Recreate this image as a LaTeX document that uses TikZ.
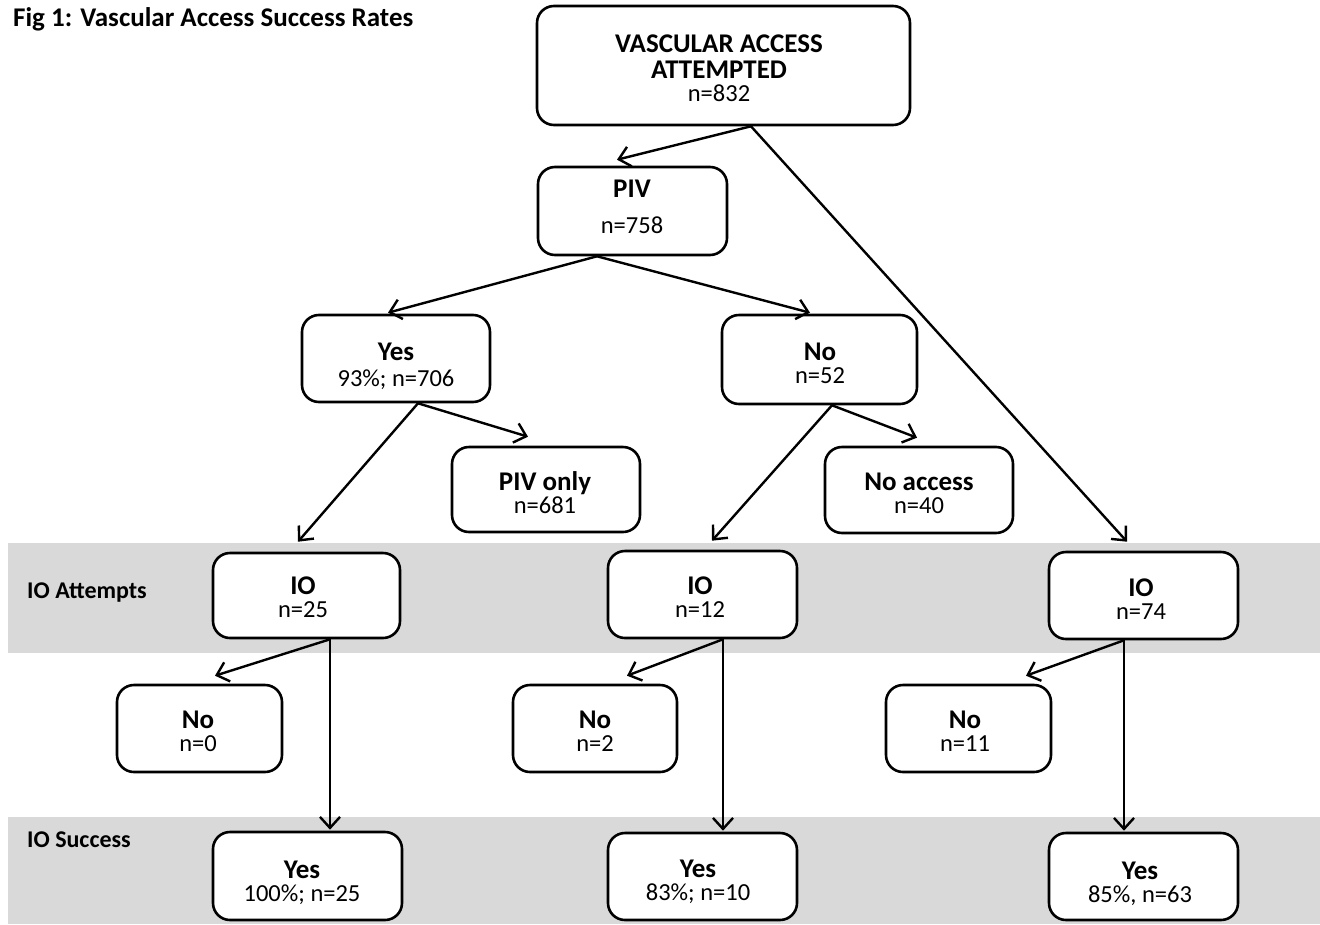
\documentclass[tikz,border=0pt]{standalone}
\usepackage{fontspec}
\setmainfont{Carlito}
\usepackage{tikz}
\usetikzlibrary{arrows.meta}

\definecolor{bandgray}{HTML}{D9D9D9}
\newcommand{\hd}[1]{{\fontsize{27}{30}\selectfont\bfseries #1}}

\begin{document}
\begin{tikzpicture}[x=1pt,y=-1pt,>={Straight Barb[length=11pt,width=20pt]},
  arr/.style={->,line width=2.4pt},
  box node/.style={draw,fill=white,rounded corners=17pt,line width=2.6pt,inner sep=0pt},
  text node/.style={anchor=base,align=center,inner sep=0pt,font=\fontsize{24.5}{23}\selectfont},
  tag node/.style={anchor=base west,inner sep=0pt,font=\fontsize{24}{26}\selectfont\bfseries}]
  \useasboundingbox (0,0) rectangle (1320,924);

  % grey bands
  \fill[bandgray] (8,543) rectangle (1320,653);
  \fill[bandgray] (8,817) rectangle (1320,924);
  \node[tag node] (title) at (13,26) {\fontsize{27}{30}\selectfont Fig 1: Vascular Access Success Rates};
  \node[tag node] (attempts) at (27,598) {IO Attempts};
  \node[tag node] (success) at (27,847) {IO Success};

  % boxes
  \node[box node,minimum width=373pt,minimum height=119pt] (top) at (723.5,65.5) {};
  \node[box node,minimum width=189pt,minimum height=88pt] (piv) at (632.5,211) {};
  \node[box node,minimum width=188pt,minimum height=87pt] (yes) at (396,358.5) {};
  \node[box node,minimum width=195pt,minimum height=89pt] (no) at (819.5,359.5) {};
  \node[box node,minimum width=188pt,minimum height=85pt] (pivonly) at (546,489.5) {};
  \node[box node,minimum width=188pt,minimum height=86pt] (noacc) at (919,490) {};
  \node[box node,minimum width=187pt,minimum height=85pt] (io1) at (306.5,595.5) {};
  \node[box node,minimum width=189pt,minimum height=87pt] (io2) at (702.5,594.5) {};
  \node[box node,minimum width=189pt,minimum height=87pt] (io3) at (1143.5,595.5) {};
  \node[box node,minimum width=165pt,minimum height=87pt] (no1) at (199.5,728.5) {};
  \node[box node,minimum width=164pt,minimum height=87pt] (no2) at (595,728.5) {};
  \node[box node,minimum width=165pt,minimum height=87pt] (no3) at (968.5,728.5) {};
  \node[box node,minimum width=189pt,minimum height=88pt] (yes1) at (307.5,876) {};
  \node[box node,minimum width=189pt,minimum height=87pt] (yes2) at (702.5,876.5) {};
  \node[box node,minimum width=189pt,minimum height=87pt] (yes3) at (1143.5,876.5) {};

  % box texts (placed at the baseline of their last line)
  \node[text node] (topt) at (719,101) {\hd{VASCULAR ACCESS}\\[3pt]\hd{ATTEMPTED}\\[0pt]n=832};
  \node[text node] (pivt) at (632,233) {\hd{PIV}\\[13pt]n=758};
  \node[text node] (yest) at (396,386) {\hd{Yes}\\[3pt]93\%; n=706};
  \node[text node] (not) at (820,383) {\hd{No}\\n=52};
  \node[text node] (pivonlyt) at (545,513) {\hd{PIV only}\\n=681};
  \node[text node] (noacct) at (919,513) {\hd{No access}\\n=40};
  \node[text node] (io1t) at (303,617) {\hd{IO}\\n=25};
  \node[text node] (io2t) at (700,617) {\hd{IO}\\n=12};
  \node[text node] (io3t) at (1141,619) {\hd{IO}\\n=74};
  \node[text node] (no1t) at (198,751) {\hd{No}\\n=0};
  \node[text node] (no2t) at (595,751) {\hd{No}\\n=2};
  \node[text node] (no3t) at (965,751) {\hd{No}\\n=11};
  \node[text node] (yes1t) at (302,901) {\hd{Yes}\\100\%; n=25};
  \node[text node] (yes2t) at (698,900) {\hd{Yes}\\83\%; n=10};
  \node[text node] (yes3t) at (1140,902) {\hd{Yes}\\85\%, n=63};

  % connectors
  \coordinate (topout) at ([xshift=27.5pt]top.south);
  \coordinate (pivout) at ([xshift=-35.5pt]piv.south);
  \coordinate (yesout) at ([xshift=22pt]yes.south);
  \coordinate (noout) at ([xshift=12.5pt]no.south);
  \coordinate (io1out) at ([xshift=23.5pt]io1.south);
  \coordinate (io2out) at ([xshift=20.5pt]io2.south);
  \coordinate (io3out) at ([xshift=-19.5pt]io3.south);

  \draw[arr] (topout) -- ([xshift=-15.5pt,yshift=6pt]piv.north);
  \draw[arr] (topout) -- ([xshift=-16.5pt,yshift=9pt]io3.north);
  \draw[arr] (pivout) -- ([xshift=-8pt,yshift=1pt]yes.north);
  \draw[arr] (pivout) -- ([xshift=-9.5pt,yshift=1pt]no.north);
  \draw[arr] (yesout) -- ([xshift=-8.5pt,yshift=10pt]io1.north);
  \draw[arr] (yesout) -- ([xshift=-18pt,yshift=9pt]pivonly.north);
  \draw[arr] (noout) -- ([xshift=9.5pt,yshift=9pt]io2.north);
  \draw[arr] (noout) -- ([xshift=-2pt,yshift=8pt]noacc.north);
  \draw[arr] (io1out) -- ([xshift=15.5pt,yshift=8pt]no1.north);
  \draw[arr] (io1out) -- ([xshift=22.5pt,yshift=1pt]yes1.north);
  \draw[arr] (io2out) -- ([xshift=32pt,yshift=8pt]no2.north);
  \draw[arr] (io2out) -- ([xshift=20.5pt,yshift=1pt]yes2.north);
  \draw[arr] (io3out) -- ([xshift=57.5pt,yshift=8pt]no3.north);
  \draw[arr] (io3out) -- ([xshift=-19.5pt,yshift=1pt]yes3.north);
\end{tikzpicture}
\end{document}
